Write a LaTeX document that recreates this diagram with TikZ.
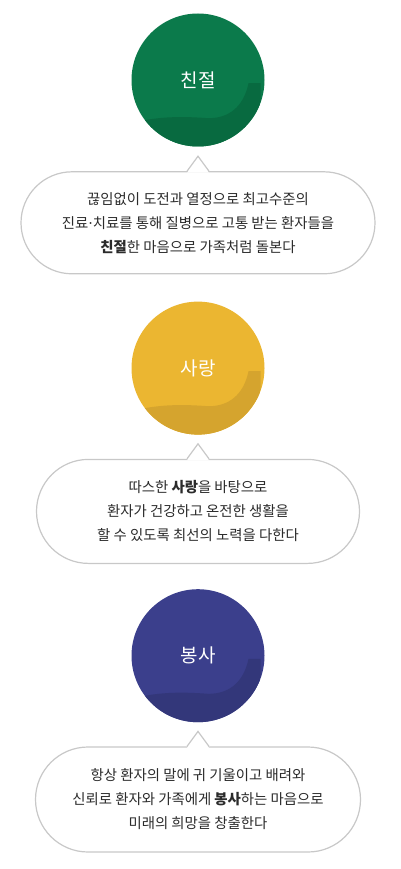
\documentclass[tikz,border=0pt]{standalone}
\usepackage{fontspec}
\setmainfont{Noto Sans CJK KR}
\newfontfamily\dotfont{DejaVu Sans}
\usetikzlibrary{positioning,shapes.misc}

\definecolor{kindgreen}{HTML}{0B7A4B}
\definecolor{kindgreendark}{HTML}{086A40}
\definecolor{loveyellow}{HTML}{EBB631}
\definecolor{loveyellowdark}{HTML}{D5A42E}
\definecolor{serveblue}{HTML}{3B3F8C}
\definecolor{servebluedark}{HTML}{33377A}
\definecolor{bubbleline}{HTML}{C8C8C8}
\definecolor{bodytext}{HTML}{2B2B2B}

\tikzset{
  valuecircle/.style 2 args={circle, minimum size=133pt, inner sep=0pt, fill=#1,
    text=white, font=\fontsize{19}{22}\selectfont,
    path picture={\fill[#2, shift={(path picture bounding box.center)}]
      (-80,42) -- (-70,42) .. controls (-30,28) and (0,29) .. (28,31)
      .. controls (48,31) and (63,20) .. (68,-4) -- (80,-4) -- (80,80) -- (-80,80) -- cycle;}},
  bubble/.style={rounded rectangle, draw=bubbleline, line width=1.2pt, fill=white,
    align=center, text=bodytext, font=\fontsize{14.4}{24}\selectfont, inner sep=0pt},
  pointer/.style={draw=bubbleline, line width=1.2pt}
}

\begin{document}
\begin{tikzpicture}[x=1pt, y=-1pt]
  \useasboundingbox (0,0) rectangle (400,869);

  \node[valuecircle={kindgreen}{kindgreendark}] (circ1) at (198,80) {친절};
  \node[bubble, minimum width=354pt, minimum height=102pt, below=24.5pt of circ1] (bub1)
    {끊임없이 도전과 열정으로 최고수준의\\
     진료{\dotfont·}치료를 통해 질병으로 고통 받는 환자들을\\
     \textbf{친절}한 마음으로 가족처럼 돌본다};

  \node[valuecircle={loveyellow}{loveyellowdark}, below=27pt of bub1] (circ2) {사랑};
  \node[bubble, minimum width=323pt, minimum height=104pt, below=24pt of circ2] (bub2)
    {따스한 \textbf{사랑}을 바탕으로\\
     환자가 건강하고 온전한 생활을\\
     할 수 있도록 최선의 노력을 다한다};

  \node[valuecircle={serveblue}{servebluedark}, below=25pt of bub2] (circ3) {봉사};
  \node[bubble, minimum width=325pt, minimum height=105pt, below=24pt of circ3] (bub3)
    {항상 환자의 말에 귀 기울이고 배려와\\
     신뢰로 환자와 가족에게 \textbf{봉사}하는 마음으로\\
     미래의 희망을 창출한다};

  % pointers on top of the bubbles
  \fill[white] ([xshift=-11pt,yshift=-1.5pt]bub1.north) -- ([yshift=15pt]bub1.north) -- ([xshift=11pt,yshift=-1.5pt]bub1.north) -- cycle;
  \draw[pointer] ([xshift=-11pt]bub1.north) -- ([yshift=15pt]bub1.north) -- ([xshift=11pt]bub1.north);
  \fill[white] ([xshift=-11pt,yshift=-1.5pt]bub2.north) -- ([yshift=15pt]bub2.north) -- ([xshift=11pt,yshift=-1.5pt]bub2.north) -- cycle;
  \draw[pointer] ([xshift=-11pt]bub2.north) -- ([yshift=15pt]bub2.north) -- ([xshift=11pt]bub2.north);
  \fill[white] ([xshift=-11pt,yshift=-1.5pt]bub3.north) -- ([yshift=15pt]bub3.north) -- ([xshift=11pt,yshift=-1.5pt]bub3.north) -- cycle;
  \draw[pointer] ([xshift=-11pt]bub3.north) -- ([yshift=15pt]bub3.north) -- ([xshift=11pt]bub3.north);
\end{tikzpicture}
\end{document}
